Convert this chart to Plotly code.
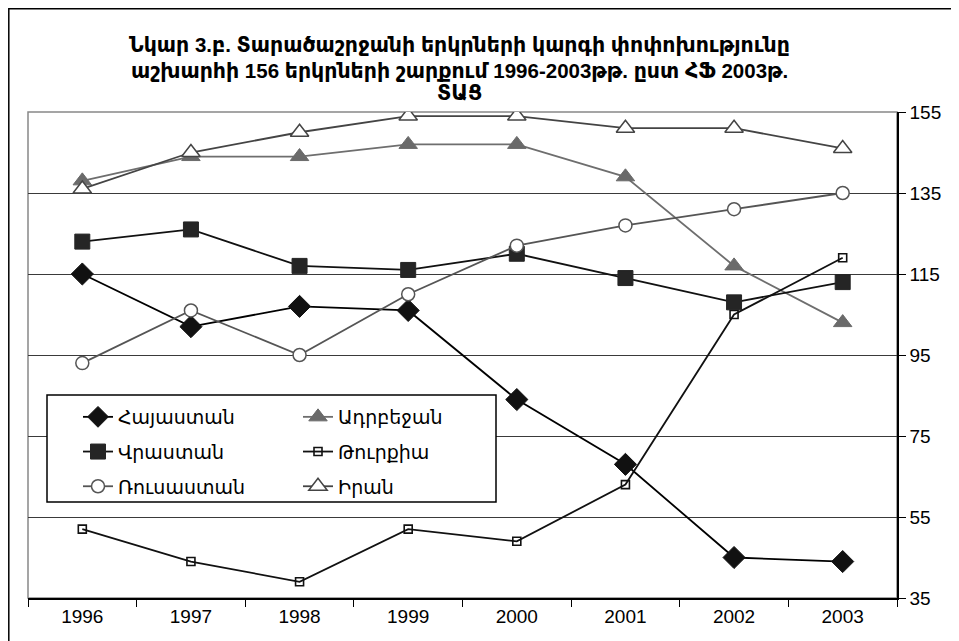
import plotly.graph_objects as go

years = ["1996", "1997", "1998", "1999", "2000", "2001", "2002", "2003"]
armenia = [115, 102, 107, 106, 84, 68, 45, 44]
azerbaijan = [138, 144, 144, 147, 147, 139, 117, 103]
georgia = [123, 126, 117, 116, 120, 114, 108, 113]
turkey = [52, 44, 39, 52, 49, 63, 105, 119]
russia = [93, 106, 95, 110, 122, 127, 131, 135]
iran = [136, 145, 150, 154, 154, 151, 151, 146]

names = ["Հայաստան", "Ադրբեջան", "Վրաստան", "Թուրքիա", "Ռուսաստան", "Իրան"]
title_lines = [
    "Նկար 3.բ. Տարածաշրջանի երկրների կարգի փոփոխությունը",
    "աշխարհի 156 երկրների շարքում 1996-2003թթ. ըստ ՀՖ 2003թ.",
    "ՏԱՑ",
]
y_ticks = [35, 55, 75, 95, 115, 135, 155]

FONT = "Liberation Sans, Arial, DejaVu Sans, Noto Sans"

series = [
    (armenia, names[0], "#000000", dict(symbol="diamond", size=17, color="#111111", line=dict(color="#111111", width=1)), "legend"),
    (azerbaijan, names[1], "#6e6e6e", dict(symbol="triangle-up", size=16, color="#6a6a6a", line=dict(color="#6a6a6a", width=1)), "legend2"),
    (georgia, names[2], "#111111", dict(symbol="square", size=15, color="#252525", line=dict(color="#252525", width=1)), "legend"),
    (turkey, names[3], "#111111", dict(symbol="square-open", size=8, color="#111111", line=dict(width=1.6)), "legend2"),
    (russia, names[4], "#555555", dict(symbol="circle", size=13, color="white", line=dict(color="#555555", width=1.5)), "legend"),
    (iran, names[5], "#444444", dict(symbol="triangle-up", size=16, color="white", line=dict(color="#444444", width=1.5)), "legend2"),
]

fig = go.Figure()
for i, (vals, nm, lc, mk, lg) in enumerate(series):
    fig.add_trace(go.Scatter(
        x=years, y=vals, name=nm, mode="lines+markers",
        line=dict(color=lc, width=1.8), marker=mk,
        legend=lg, legendgroup="g%d" % i,
    ))

# page body has an 8px margin: the figure starts at screen (8, 8)
OFF = 8
W, H = 948, 633
L, T = 28 - OFF, 112 - OFF
R = W - (897 - OFF)
B = H - (598 - OFF)
pw = W - L - R
ph = H - T - B

def px(xs):
    return (xs - OFF - L) / pw

def py(ys):
    return (H - B - (ys - OFF)) / ph

leg_common = dict(
    orientation="v", yanchor="top", xanchor="left",
    bgcolor="rgba(0,0,0,0)", borderwidth=0,
    font=dict(family=FONT, size=19, color="black"),
    tracegroupgap=7, itemsizing="trace",
)

fig.update_layout(
    width=W, height=H,
    margin=dict(l=L, r=R, t=T, b=B, autoexpand=False),
    paper_bgcolor="white", plot_bgcolor="white",
    font=dict(family=FONT, size=19, color="black"),
    showlegend=True,
    legend=dict(x=px(78), y=py(398), **leg_common),
    legend2=dict(x=px(298), y=py(398), **leg_common),
    xaxis=dict(
        type="category", tickson="boundaries", ticks="outside", ticklen=7,
        tickcolor="black", showline=True, linecolor="black", linewidth=1.5,
        showgrid=False, tickfont=dict(family=FONT, size=19, color="black"),
        range=[-0.5, 7.5], fixedrange=True, automargin=False,
    ),
    yaxis=dict(
        side="right", range=[35, 155], tickvals=y_ticks,
        ticks="outside", ticklen=7, tickcolor="black",
        showline=True, linecolor="black", linewidth=1.5,
        showgrid=True, gridcolor="#3a3a3a", gridwidth=1.2,
        tickfont=dict(family=FONT, size=19, color="black"),
        zeroline=False, automargin=False,
    ),
)

# title, one annotation per line
for line, yy in zip(title_lines, [45, 70, 93]):
    fig.add_annotation(
        text=line, xref="paper", yref="paper",
        x=px(459), y=py(yy), xanchor="center", yanchor="middle",
        showarrow=False, align="center",
        font=dict(family=FONT, size=20.5, color="black", weight="bold"),
    )

# plot area border (left/top gray)
fig.add_shape(type="rect", xref="paper", yref="paper", x0=0, y0=0, x1=1, y1=1,
              line=dict(color="#888888", width=1.5), layer="below")
# legend box
fig.add_shape(type="rect", xref="paper", yref="paper",
              x0=px(47), y0=py(502), x1=px(496), y1=py(395),
              line=dict(color="black", width=1.5), fillcolor="white", layer="above")
# outer chart border (figure edge)
fig.add_shape(type="rect", xref="paper", yref="paper",
              x0=px(8.8), y0=py(660), x1=px(955.2), y1=py(8.8),
              line=dict(color="black", width=1.5))

fig.write_html("out.html")
